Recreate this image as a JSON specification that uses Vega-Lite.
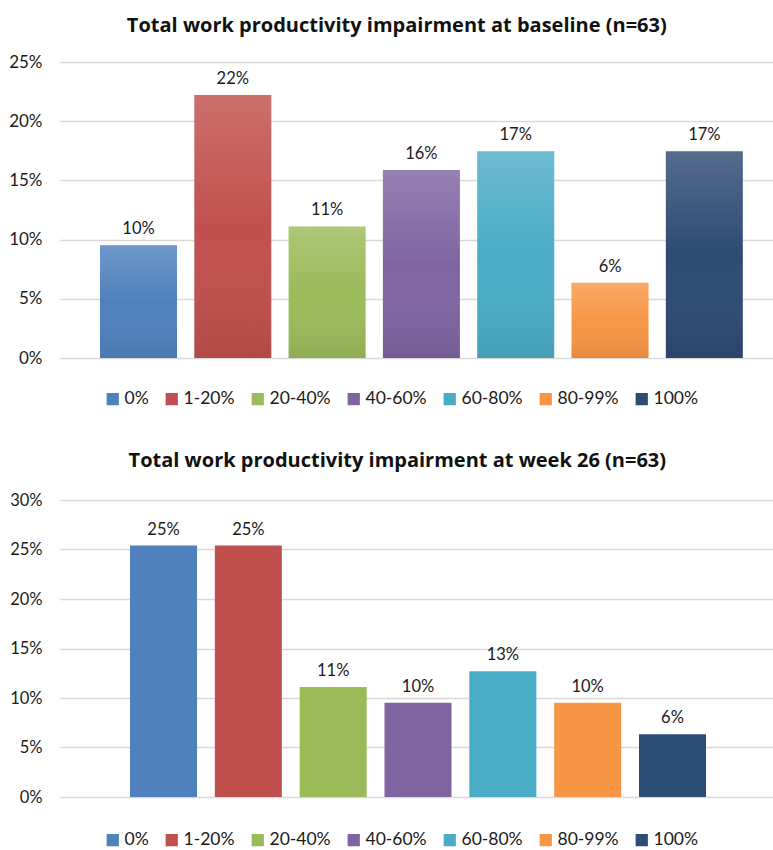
{
  "$schema": "https://vega.github.io/schema/vega-lite/v6.json",
  "padding": {"left": 8, "top": 16, "right": 0, "bottom": 0},
  "background": "white",
  "datasets": {
    "baseline": [
      {"band": "0%", "share": 0.0952},
      {"band": "1-20%", "share": 0.2222},
      {"band": "20-40%", "share": 0.1111},
      {"band": "40-60%", "share": 0.1587},
      {"band": "60-80%", "share": 0.1746},
      {"band": "80-99%", "share": 0.0635},
      {"band": "100%", "share": 0.1746}
    ],
    "week26": [
      {"band": "0%", "share": 0.254},
      {"band": "1-20%", "share": 0.254},
      {"band": "20-40%", "share": 0.1111},
      {"band": "40-60%", "share": 0.0952},
      {"band": "60-80%", "share": 0.127},
      {"band": "80-99%", "share": 0.0952},
      {"band": "100%", "share": 0.0635}
    ]
  },
  "config": {
    "font": "Lato",
    "view": {"stroke": null},
    "axis": {"labelFont": "Lato", "labelColor": "#1a1a1a"},
    "title": {"font": "Open Sans", "fontSize": 20, "fontWeight": "bold", "color": "#111111", "anchor": "middle", "frame": "bounds"},
    "legend": {
      "orient": "none",
      "direction": "horizontal",
      "symbolType": "square",
      "symbolSize": 150,
      "symbolStrokeWidth": 0,
      "labelFont": "Lato",
      "labelFontSize": 17.5,
      "labelColor": "#1a1a1a",
      "labelOffset": 3,
      "columnPadding": 14,
      "title": null
    }
  },
  "resolve": {"scale": {"color": "independent", "x": "independent", "y": "independent"}},
  "spacing": 43,
  "vconcat": [
    {
      "title": {"text": "Total work productivity impairment at baseline (n=63)", "dx": 6, "offset": 17},
      "width": 713,
      "height": 296,
      "data": {"name": "baseline"},
      "encoding": {
        "x": {
          "field": "band",
          "type": "nominal",
          "sort": null,
          "axis": null,
          "scale": {"paddingInner": 0.1835, "paddingOuter": 0.372, "align": 0.57}
        },
        "y": {
          "field": "share",
          "type": "quantitative",
          "scale": {"domain": [0, 0.25]},
          "axis": {
            "values": [0, 0.05, 0.1, 0.15, 0.2, 0.25],
            "format": ".0%",
            "title": null,
            "domain": false,
            "ticks": false,
            "labelFontSize": 17,
            "labelPadding": 18,
            "gridColor": "#d9d9d9",
            "gridWidth": 1.5
          }
        }
      },
      "layer": [
        {
          "mark": {"type": "bar"},
          "encoding": {
            "color": {
              "field": "band",
              "type": "nominal",
              "sort": null,
              "scale": {
                "domain": ["0%", "1-20%", "20-40%", "40-60%", "60-80%", "80-99%", "100%"],
                "range": ["#4f81bd", "#c0504d", "#9bbb59", "#8064a2", "#4bacc6", "#f79646", "#2f4b73"]
              },
              "legend": {"legendX": 44, "legendY": 328}
            }
          }
        },
        {
          "mark": {
            "type": "bar",
            "fill": {
              "gradient": "linear",
              "x1": 0, "y1": 0, "x2": 0, "y2": 1,
              "stops": [
                {"offset": 0, "color": "rgba(255,255,255,0.18)"},
                {"offset": 0.5, "color": "rgba(255,255,255,0)"},
                {"offset": 1, "color": "rgba(0,0,0,0.08)"}
              ]
            }
          },
          "encoding": {}
        },
        {
          "mark": {"type": "text", "baseline": "bottom", "dy": -8, "fontSize": 16.5, "font": "Lato", "color": "#1a1a1a"},
          "encoding": {"text": {"field": "share", "type": "quantitative", "format": ".0%"}}
        }
      ]
    },
    {
      "title": {"text": "Total work productivity impairment at week 26 (n=63)", "dx": 6, "offset": 21},
      "width": 713,
      "height": 297,
      "data": {"name": "week26"},
      "encoding": {
        "x": {
          "field": "band",
          "type": "nominal",
          "sort": null,
          "axis": null,
          "scale": {"paddingInner": 0.21, "paddingOuter": 0.8075, "align": 0.511}
        },
        "y": {
          "field": "share",
          "type": "quantitative",
          "scale": {"domain": [0, 0.3]},
          "axis": {
            "values": [0, 0.05, 0.1, 0.15, 0.2, 0.25, 0.3],
            "format": ".0%",
            "title": null,
            "domain": false,
            "ticks": false,
            "labelFontSize": 16.5,
            "labelPadding": 18,
            "gridColor": "#d9d9d9",
            "gridWidth": 1.5
          }
        }
      },
      "layer": [
        {
          "mark": {"type": "bar"},
          "encoding": {
            "color": {
              "field": "band",
              "type": "nominal",
              "sort": null,
              "scale": {
                "domain": ["0%", "1-20%", "20-40%", "40-60%", "60-80%", "80-99%", "100%"],
                "range": ["#4f81bd", "#c0504d", "#9bbb59", "#8064a2", "#4bacc6", "#f79646", "#2c4d75"]
              },
              "legend": {"legendX": 44, "legendY": 331}
            }
          }
        },
        {
          "mark": {"type": "text", "baseline": "bottom", "dy": -8, "fontSize": 16.5, "font": "Lato", "color": "#1a1a1a"},
          "encoding": {"text": {"field": "share", "type": "quantitative", "format": ".0%"}}
        }
      ]
    }
  ]
}
